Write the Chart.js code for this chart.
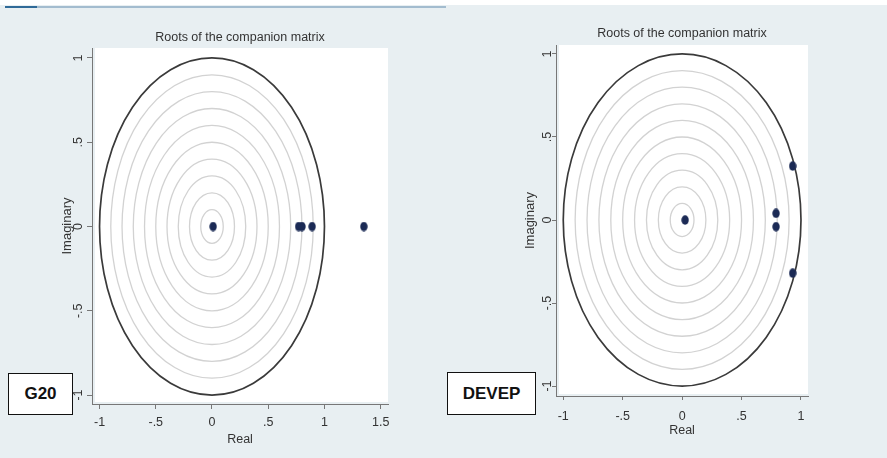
<!DOCTYPE html>
<html><head><meta charset="utf-8">
<script src="https://cdn.jsdelivr.net/npm/chart.js@4.4.1/dist/chart.umd.min.js"></script>
<style>
html,body{margin:0;padding:0;background:#fff;width:887px;height:458px;overflow:hidden;font-family:"Liberation Sans",Arial,sans-serif}
#bg{position:absolute;left:0;top:5px;width:887px;height:453px;background:#e8eff2}
#rule{position:absolute;left:5px;top:6px;width:441px;height:2px;background:#a3bccf}
#rule2{position:absolute;left:5px;top:6px;width:32px;height:2px;background:#2f6a98}
.wrap{position:absolute;top:0;height:458px}
.tag{position:absolute;background:#fff;border:1.5px solid #111;box-sizing:border-box;display:flex;align-items:center;justify-content:center;font-weight:bold;font-size:17px;color:#111;font-family:"Liberation Sans",Arial,sans-serif}
</style></head>
<body>
<div id="bg"></div><div id="rule"></div><div id="rule2"></div>
<div class="wrap" style="left:0;width:445px"><canvas id="c1" width="445" height="458"></canvas></div>
<div class="wrap" style="left:445px;width:442px"><canvas id="c2" width="442" height="458"></canvas></div>
<div class="tag" style="left:8px;top:373px;width:65px;height:42px">G20</div>
<div class="tag" style="left:447px;top:372px;width:89px;height:43px">DEVEP</div>
<script>
// ---- data ----
const chartTitle = 'Roots of the companion matrix';
const panelNames = ['G20', 'DEVEP'];
const g20Real = [0.01, 0.77, 0.80, 0.89, 1.35];
const g20Imag = [0, 0, 0, 0, 0];
const devepReal = [0.025, 0.79, 0.79, 0.93, 0.93];
const devepImag = [0, 0.04, -0.04, 0.325, -0.32];
const g20XTicks = [-1, -0.5, 0, 0.5, 1, 1.5];
const devepXTicks = [-1, -0.5, 0, 0.5, 1];
const yTicks = [-1, -0.5, 0, 0.5, 1];
const gridRadii = [0.1, 0.2, 0.3, 0.4, 0.5, 0.6, 0.7, 0.8, 0.9];
const unitRadius = 1;

const FONT = '"Liberation Sans", Arial, sans-serif';
const stataLabel = v => String(v).replace('0.', '.');

// elliptical marker (the source image is slightly stretched)
function makeDot() {
  const c = document.createElement('canvas');
  c.width = 8; c.height = 10;
  const g = c.getContext('2d');
  g.fillStyle = '#1b2a55';
  g.beginPath(); g.ellipse(4, 5, 3.7, 4.7, 0, 0, Math.PI * 2); g.fill();
  return c;
}
const dot = makeDot();

const rootsPlot = {
  id: 'rootsPlot',
  beforeDraw(chart) {
    const { ctx, chartArea: a } = chart;
    ctx.save();
    ctx.fillStyle = '#ffffff';
    ctx.fillRect(a.left + 3, a.top, a.right - a.left - 3, a.bottom - a.top - 2);
    ctx.restore();
  },
  beforeDatasetsDraw(chart) {
    const { ctx, chartArea: a } = chart;
    const xs = chart.scales.x, ys = chart.scales.y;
    const cx = xs.getPixelForValue(0), cy = ys.getPixelForValue(0);
    ctx.save();
    ctx.beginPath(); ctx.rect(a.left, a.top, a.right - a.left, a.bottom - a.top); ctx.clip();
    ctx.strokeStyle = '#d2d2d2'; ctx.lineWidth = 1.3;
    gridRadii.forEach(r => {
      const rx = xs.getPixelForValue(r) - cx, ry = cy - ys.getPixelForValue(r);
      ctx.beginPath(); ctx.ellipse(cx, cy, rx, ry, 0, 0, Math.PI * 2); ctx.stroke();
    });
    ctx.strokeStyle = '#3a3a3a'; ctx.lineWidth = 1.7;
    const rx = xs.getPixelForValue(unitRadius) - cx, ry = cy - ys.getPixelForValue(unitRadius);
    ctx.beginPath(); ctx.ellipse(cx, cy, rx, ry, 0, 0, Math.PI * 2); ctx.stroke();
    ctx.restore();
  }
};

function makeChart(id, real, imag, xTicks, g) {
  const axisCommon = {
    type: 'linear',
    grid: { display: true, drawOnChartArea: false, drawTicks: true, tickLength: g.tl, color: '#777', lineWidth: 1 },
    border: { display: true, color: '#777', width: 1 }
  };
  return new Chart(document.getElementById(id), {
    type: 'scatter',
    data: {
      datasets: [{
        data: real.map((r, i) => ({ x: r, y: imag[i] })),
        pointStyle: dot, pointRadius: 4, pointHoverRadius: 4,
        backgroundColor: '#1b2a55', borderColor: '#1b2a55', showLine: false
      }]
    },
    options: {
      responsive: false, animation: false, events: [],
      layout: { padding: { left: 0, right: g.padRight, top: 0, bottom: 0 } },
      plugins: {
        legend: { display: false }, tooltip: { enabled: false },
        title: {
          display: true, text: chartTitle, fullSize: false, color: '#333',
          font: { family: FONT, size: 12.5, weight: 'normal', lineHeight: 1.2 },
          padding: { top: g.titleTop, bottom: g.titleBottom }
        }
      },
      scales: {
        x: Object.assign({}, axisCommon, {
          min: g.xMin, max: g.xMax,
          afterBuildTicks: s => { s.ticks = xTicks.map(v => ({ value: v })); },
          afterFit: s => { s.height = g.xH; },
          ticks: { autoSkip: false, maxRotation: 0, minRotation: 0, padding: g.xPad, color: '#333',
                   font: { family: FONT, size: 12.5 }, callback: v => stataLabel(v) },
          title: { display: true, text: 'Real', color: '#333', font: { family: FONT, size: 12.5, lineHeight: 1.2 },
                   padding: { top: 0, bottom: g.realPad } }
        }),
        y: Object.assign({}, axisCommon, {
          min: g.yMin, max: g.yMax,
          afterBuildTicks: s => { s.ticks = yTicks.map(v => ({ value: v })); },
          afterFit: s => { s.width = g.yW; },
          ticks: { autoSkip: false, minRotation: 90, maxRotation: 90, crossAlign: 'center', padding: g.yPad, color: '#333',
                   font: { family: FONT, size: 12.5 }, callback: v => stataLabel(v) },
          title: { display: true, text: 'Imaginary', color: '#333', font: { family: FONT, size: 13, lineHeight: 1.2 },
                   padding: { top: g.imagPad, bottom: 0 } }
        })
      }
    },
    plugins: [rootsPlot]
  });
}

makeChart('c1', g20Real, g20Imag, g20XTicks, {
  tl: 5, padRight: 57, titleTop: 30.5, titleBottom: 2.5,
  xMin: -1.067, xMax: 1.565, yMin: -1.053, yMax: 1.059,
  xH: 54, xPad: 6.5, realPad: 10.5, yW: 92, yPad: 1, imagPad: 60
});
makeChart('c2', devepReal, devepImag, devepXTicks, {
  tl: 4, padRight: 79, titleTop: 26.5, titleBottom: 3.5,
  xMin: -1.061, xMax: 1.059, yMin: -1.06, yMax: 1.054,
  xH: 62, xPad: 9.5, realPad: 19.5, yW: 111, yPad: -3, imagPad: 78
});
</script>
</body></html>
